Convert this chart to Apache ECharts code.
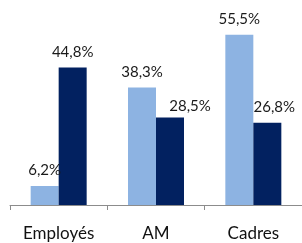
<!DOCTYPE html>
<html>
<head>
<meta charset="utf-8">
<script src="https://cdn.jsdelivr.net/npm/echarts@6/dist/echarts.min.js"></script>
<style>
  html, body { margin: 0; padding: 0; background: #fff; }
  #chart { width: 302px; height: 243px; }
</style>
</head>
<body>
<div id="chart"></div>
<script>
var categories = ['Employés', 'AM', 'Cadres'];
var serieClaire = [6.2, 38.3, 55.5];
var serieFoncee = [44.8, 28.5, 26.8];

// décalage des étiquettes de la série foncée (comme dans l'original)
var decalages = [[0, 0], [20, 4], [7, 0]];

var myChart = echarts.init(document.getElementById('chart'));

function etiquette(p) { return String(p.value).replace('.', ',') + '%'; }

var labelStyle = {
  show: true,
  position: 'top',
  distance: 8,
  color: '#1a1a1a',
  fontFamily: 'Lato',
  fontSize: 15,
  formatter: etiquette
};

var option = {
  animation: false,
  grid: { left: 10, right: -3, top: 21, bottom: 38 },
  xAxis: {
    type: 'category',
    data: categories,
    axisLine: { lineStyle: { color: '#8c8c8c', width: 1 } },
    axisTick: { show: true, length: 5, lineStyle: { color: '#8c8c8c' } },
    axisLabel: { color: '#111', fontFamily: 'Lato', fontSize: 17, margin: 20 }
  },
  yAxis: {
    type: 'value',
    min: 0,
    max: 60,
    show: false,
    splitLine: { show: false }
  },
  series: [
    {
      type: 'bar',
      data: serieClaire,
      barWidth: 28,
      barGap: 0,
      itemStyle: { color: '#8db3e2' },
      label: labelStyle
    },
    {
      type: 'bar',
      data: serieFoncee.map(function (v, i) {
        return { value: v, label: { offset: decalages[i] } };
      }),
      barWidth: 28,
      itemStyle: { color: '#022160' },
      label: labelStyle
    }
  ]
};

myChart.clear();
myChart.setOption(option);
window.addEventListener('resize', () => { myChart.resize() });
</script>
</body>
</html>
